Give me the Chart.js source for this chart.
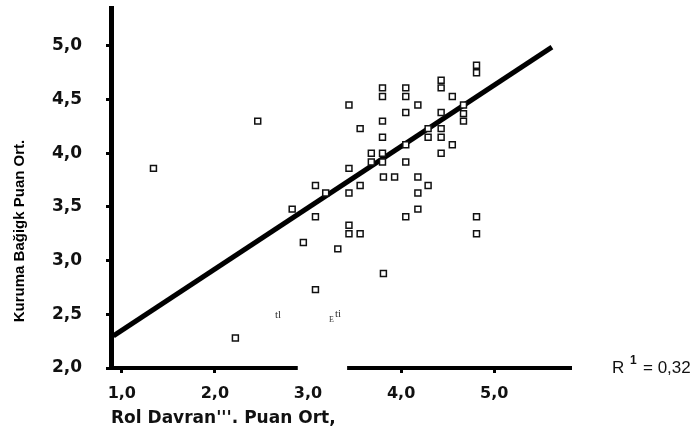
<!DOCTYPE html>
<html>
<head>
<meta charset="utf-8">
<script src="https://cdn.jsdelivr.net/npm/chart.js@4"></script>
<style>
  body { margin: 0; background: #fff; }
</style>
</head>
<body>
<canvas id="chart" width="696" height="436"></canvas>
<script>
// Scatter values (Rol Davranış vs Kuruma Bağlılık)
const rolX = [
  1.34, 2.46, 2.22, 2.83, 2.95, 3.08, 3.08, 3.08, 3.19, 3.32,
  3.44, 3.44, 3.44, 3.44, 3.44, 3.56, 3.56, 3.56, 3.68, 3.68,
  3.80, 3.80, 3.80, 3.80, 3.80, 3.80, 3.81, 3.81, 3.93, 4.05,
  4.05, 4.05, 4.05, 4.05, 4.05, 4.18, 4.18, 4.18, 4.18, 4.29,
  4.29, 4.29, 4.43, 4.43, 4.43, 4.43, 4.43, 4.43, 4.55, 4.55,
  4.67, 4.67, 4.67, 4.81, 4.81, 4.81, 4.81
];
const kurumaY = [
  3.86, 4.30, 2.28, 3.48, 3.17, 3.70, 3.41, 2.73, 3.63, 3.11,
  4.45, 3.86, 3.63, 3.33, 3.25, 4.23, 3.70, 3.25, 4.00, 3.92,
  4.61, 4.53, 4.30, 4.15, 4.00, 3.92, 3.78, 2.88, 3.78, 4.61,
  4.53, 4.38, 4.08, 3.92, 3.41, 4.45, 3.78, 3.63, 3.48, 4.23,
  4.15, 3.70, 4.68, 4.61, 4.38, 4.23, 4.15, 4.00, 4.53, 4.08,
  4.45, 4.37, 4.30, 4.82, 4.75, 3.41, 3.25
];

// Fitted line end points
const fitX = [0.91, 5.62];
const fitY = [2.30, 4.99];

const xTicks = [1, 2, 3, 4, 5];
const yTicks = [2, 2.5, 3, 3.5, 4, 4.5, 5];

// part of the x axis is missing in the scan
const axisGap = [2.89, 3.42];

const points = rolX.map((x, i) => ({ x: x, y: kurumaY[i] }));
const fitLine = fitX.map((x, i) => ({ x: x, y: fitY[i] }));

const fmt = v => v.toFixed(1).replace('.', ',');

// Extra texts: y title, R value and scan leftovers
const textPlugin = {
  id: 'texts',
  afterDraw(chart) {
    const ctx = chart.ctx;
    const xs = chart.scales.x;
    const area = chart.chartArea;

    // white gap in the x axis
    ctx.save();
    ctx.fillStyle = '#fff';
    const g0 = xs.getPixelForValue(axisGap[0]);
    const g1 = xs.getPixelForValue(axisGap[1]);
    ctx.fillRect(g0, area.bottom - 4, g1 - g0, 12);
    ctx.restore();

    ctx.save();
    ctx.fillStyle = '#000';
    ctx.translate(20, 231);
    ctx.rotate(-Math.PI / 2);
    ctx.font = 'bold 15px "Liberation Sans", Arial, sans-serif';
    ctx.textAlign = 'center';
    ctx.textBaseline = 'middle';
    ctx.fillText('Kuruma Bağigk Puan Ort.', 0, 0);
    ctx.restore();

    ctx.save();
    ctx.fillStyle = '#111';
    ctx.textBaseline = 'middle';
    ctx.font = '17px "Liberation Sans", Arial, sans-serif';
    ctx.fillText('R', 612, 368);
    ctx.font = 'bold 12px "Liberation Sans", Arial, sans-serif';
    ctx.fillText('1', 630, 361);
    ctx.font = '17px "Liberation Sans", Arial, sans-serif';
    ctx.fillText('= 0,32', 643, 368);

    ctx.fillStyle = '#333';
    ctx.font = '11px "Liberation Serif", serif';
    ctx.fillText('tl', 275, 315);
    ctx.font = '8px "Liberation Serif", serif';
    ctx.fillText('E', 329, 320);
    ctx.font = '11px "Liberation Serif", serif';
    ctx.fillText('ti', 335, 314);
    ctx.restore();
  }
};

new Chart(document.getElementById('chart').getContext('2d'), {
  type: 'scatter',
  data: {
    datasets: [
      {
        label: 'Fit',
        data: fitLine,
        showLine: true,
        borderColor: '#000',
        borderWidth: 5,
        pointRadius: 0,
        order: 2
      },
      {
        label: 'Gözlem',
        data: points,
        pointStyle: 'rect',
        pointRadius: 4.2,
        borderWidth: 1.5,
        borderColor: '#111',
        backgroundColor: '#fff',
        order: 1
      }
    ]
  },
  options: {
    responsive: false,
    animation: false,
    layout: { padding: { top: 8, right: 126, left: 0, bottom: 0 } },
    plugins: {
      legend: { display: false },
      tooltip: { enabled: false }
    },
    scales: {
      x: {
        min: 0.884,
        max: 5.814,
        afterBuildTicks: s => { s.ticks = xTicks.map(v => ({ value: v })); },
        afterFit: s => { s.height = 68; s.paddingLeft = 0; s.paddingRight = 0; },
        border: { display: true, color: '#000', width: 4 },
        grid: { drawOnChartArea: false, drawTicks: true, tickLength: 5, color: '#000', lineWidth: 3 },
        ticks: {
          color: '#111',
          padding: 11,
          font: { family: '"DejaVu Sans", Verdana, sans-serif', weight: 'bold', size: 16 },
          callback: v => fmt(v)
        },
        title: {
          display: true,
          text: "Rol Davran'''. Puan Ort,",
          align: 'start',
          color: '#111',
          padding: { top: 0, bottom: 7 },
          font: { family: '"DejaVu Sans", Verdana, sans-serif', weight: 'bold', size: 17 }
        }
      },
      y: {
        min: 2,
        max: 5.354,
        afterBuildTicks: s => { s.ticks = yTicks.map(v => ({ value: v })); },
        afterFit: s => { s.width = 111; s.paddingTop = 0; s.paddingBottom = 0; },
        border: { display: true, color: '#000', width: 5 },
        grid: { drawOnChartArea: false, drawTicks: true, tickLength: 5, color: '#000', lineWidth: 3 },
        ticks: {
          color: '#111',
          padding: 24,
          font: { family: '"DejaVu Sans", Verdana, sans-serif', weight: 'bold', size: 17 },
          callback: v => fmt(v)
        }
      }
    }
  },
  plugins: [textPlugin]
});
</script>
</body>
</html>
